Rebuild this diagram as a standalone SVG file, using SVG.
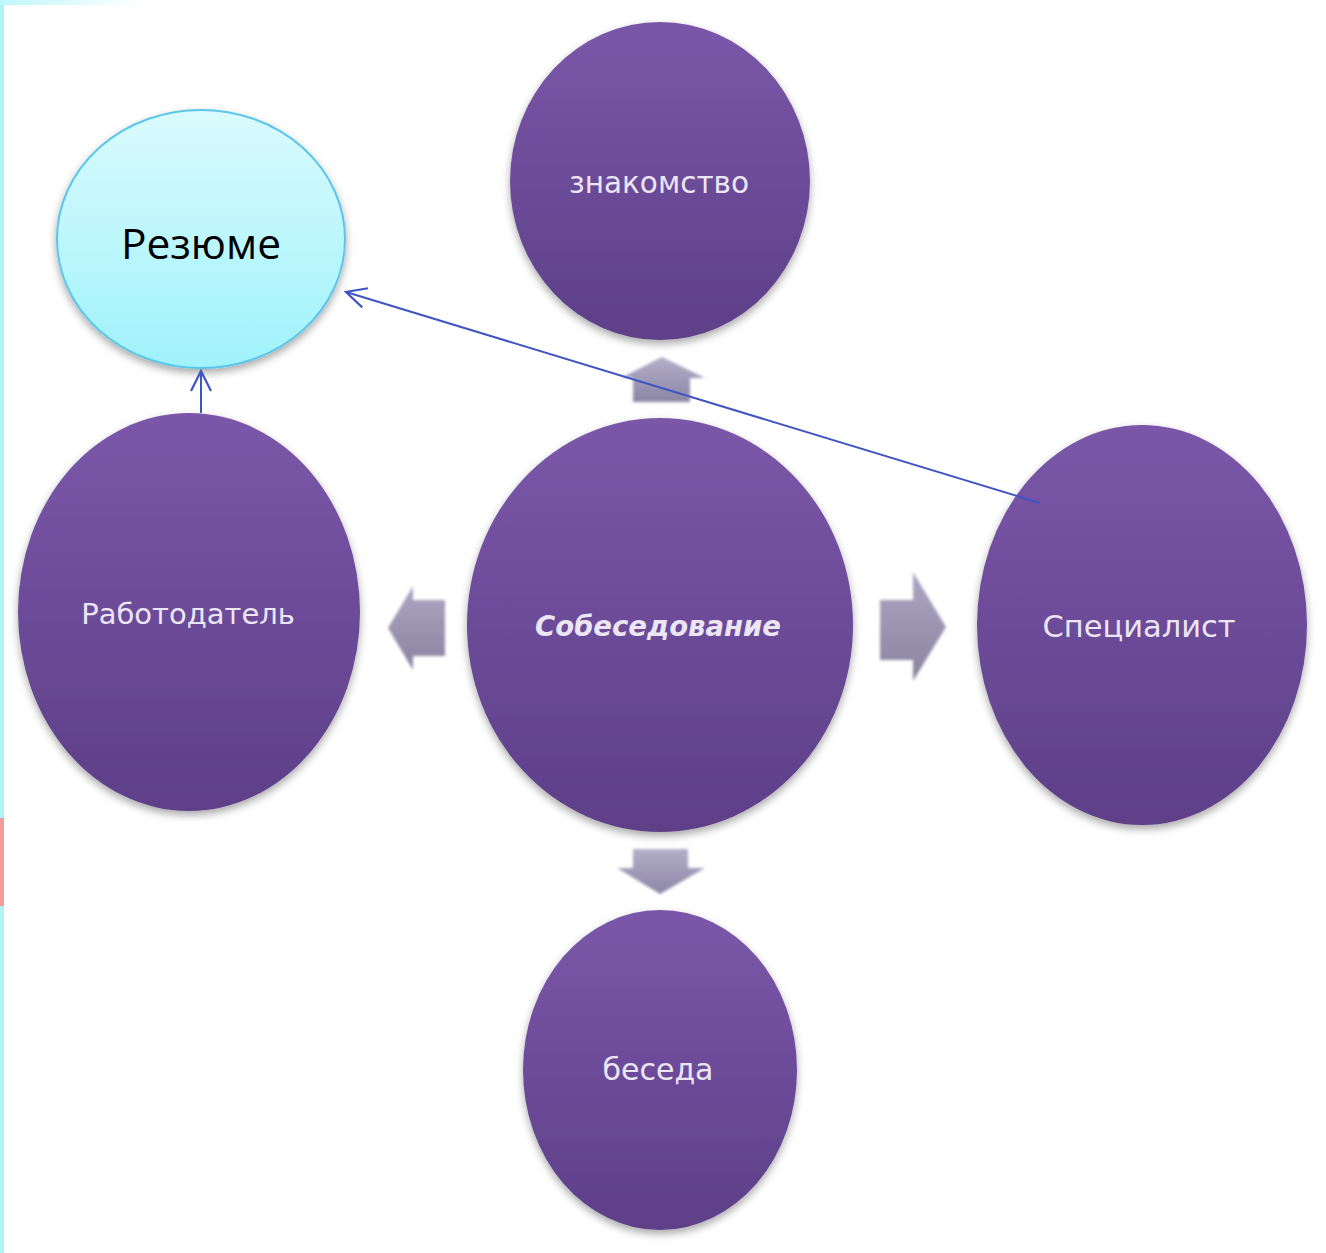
<svg xmlns="http://www.w3.org/2000/svg" width="1326" height="1253" viewBox="0 0 1326 1253">
<defs>
<linearGradient id="purp" x1="0" y1="0" x2="0" y2="1">
<stop offset="0" stop-color="#7b57a9"/>
<stop offset="1" stop-color="#5d3f88"/>
</linearGradient>
<linearGradient id="cyan" x1="0" y1="0" x2="0" y2="1">
<stop offset="0" stop-color="#dafbfd"/>
<stop offset="1" stop-color="#9ff2fb"/>
</linearGradient>
<linearGradient id="arrV" x1="0" y1="0" x2="0" y2="1">
<stop offset="0" stop-color="#b3aec8"/>
<stop offset="1" stop-color="#8c86a6"/>
</linearGradient>
<linearGradient id="arrH" x1="0" y1="0" x2="0" y2="1">
<stop offset="0" stop-color="#aca6c2"/>
<stop offset="1" stop-color="#89839f"/>
</linearGradient>
<linearGradient id="topbar" x1="0" y1="0" x2="1" y2="0">
<stop offset="0" stop-color="#bff6fa"/>
<stop offset="1" stop-color="#ffffff"/>
</linearGradient>
<filter id="sh" x="-10%" y="-10%" width="120%" height="125%">
<feGaussianBlur in="SourceAlpha" stdDeviation="4"/>
<feOffset dy="4"/>
<feComponentTransfer><feFuncA type="linear" slope="0.35"/></feComponentTransfer>
<feMerge><feMergeNode/><feMergeNode in="SourceGraphic"/></feMerge>
</filter>
<filter id="blur1"><feGaussianBlur stdDeviation="1.5"/></filter>
<marker id="open2" viewBox="0 0 24 24" refX="22" refY="12" markerWidth="24" markerHeight="24" markerUnits="userSpaceOnUse" orient="auto">
<path d="M2,2 L22,12 L2,22" fill="none" stroke="#4055c4" stroke-width="2.2"/>
</marker>
<style>
.node{fill:url(#purp);filter:url(#sh);}
.lbl{fill:#ece6f4;font-family:"Comic Neue","DejaVu Sans","Liberation Sans",sans-serif;text-anchor:middle;dominant-baseline:central;}
.arr{filter:url(#blur1);}
.conn{stroke:#4055c4;stroke-width:2;fill:none;}
</style>
</defs>
<rect width="1326" height="1253" fill="#ffffff"/>
<rect x="0" y="0" width="4" height="1253" fill="#aef3f6"/>
<rect x="0" y="818" width="4" height="88" fill="#f39a9a"/>
<rect x="0" y="0" width="140" height="5" fill="url(#topbar)"/>

<g id="arrows-block" class="arr">
<path d="M633,402 L633,378 L621,378 L662,357 L705,378 L690,378 L690,402 Z" fill="url(#arrV)"/>
<path d="M633,849 L688,849 L688,868 L705,868 L660,894 L617,868 L633,868 Z" fill="url(#arrV)"/>
<path d="M445,600 L445,656 L413,656 L413,670 L388,628 L413,586 L413,600 Z" fill="url(#arrH)"/>
<path d="M880,600 L913,600 L913,572 L946,627 L913,681 L913,660 L880,660 Z" fill="url(#arrH)"/>
</g>

<g id="node-znakomstvo">
<ellipse class="node" cx="660" cy="181" rx="150" ry="159"/>
<text class="lbl" x="659" y="183" font-size="29.5">знакомство</text>
</g>
<g id="node-sobesedovanie">
<ellipse class="node" cx="660" cy="625" rx="193" ry="207"/>
<text class="lbl" x="658" y="627" font-size="27.5" font-weight="bold" font-style="italic">Собеседование</text>
</g>
<g id="node-rabotodatel">
<ellipse class="node" cx="189" cy="612" rx="171" ry="199"/>
<text class="lbl" x="188" y="614" font-size="29">Работодатель</text>
</g>
<g id="node-specialist">
<ellipse class="node" cx="1142" cy="625" rx="165" ry="200"/>
<text class="lbl" x="1139" y="627" font-size="30.5">Специалист</text>
</g>
<g id="node-beseda">
<ellipse class="node" cx="660" cy="1070" rx="137" ry="160"/>
<text class="lbl" x="658" y="1070" font-size="30">беседа</text>
</g>
<g id="node-rezume">
<ellipse cx="201" cy="239" rx="144" ry="129" fill="url(#cyan)" stroke="#5cc6ea" stroke-width="2" filter="url(#sh)"/>
<text x="201" y="242" font-size="42.5" fill="#000" font-family="'Open Sans','Liberation Sans',sans-serif" text-anchor="middle" dominant-baseline="central">Резюме</text>
</g>

<g id="connectors">
<line class="conn" x1="201" y1="413" x2="201" y2="371" marker-end="url(#open2)"/>
<line class="conn" x1="1040" y1="503" x2="346" y2="292" marker-end="url(#open2)"/>
</g>
</svg>
